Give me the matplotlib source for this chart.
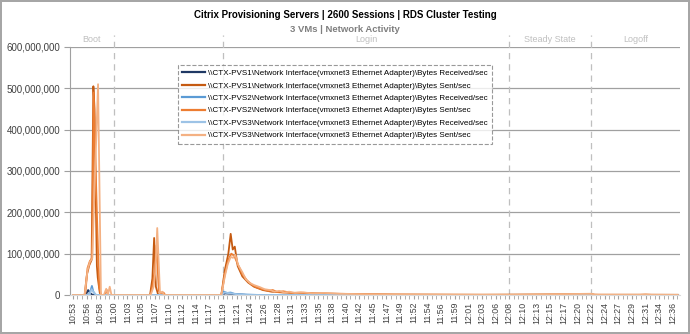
import numpy as np
import matplotlib.pyplot as plt

#%% datos (minutos desde 10:53, valores en millones de bytes/s)
etiquetas = ['10:53', '10:56', '10:58', '11:00', '11:03', '11:05', '11:07', '11:10', '11:12',
             '11:14', '11:17', '11:19', '11:21', '11:24', '11:26', '11:28', '11:31', '11:33',
             '11:35', '11:38', '11:40', '11:42', '11:45', '11:47', '11:49', '11:52', '11:54',
             '11:56', '11:59', '12:01', '12:03', '12:06', '12:08', '12:10', '12:13', '12:15',
             '12:17', '12:20', '12:22', '12:24', '12:27', '12:29', '12:31', '12:34', '12:36']
fases = ['Boot', 'Login', 'Steady State', 'Logoff']
fases_idx = [3, 11, 32, 38]   # etiqueta donde empieza cada fase

nombres = [r'\\CTX-PVS1\Network Interface(vmxnet3 Ethernet Adapter)\Bytes Received/sec',
           r'\\CTX-PVS1\Network Interface(vmxnet3 Ethernet Adapter)\Bytes Sent/sec',
           r'\\CTX-PVS2\Network Interface(vmxnet3 Ethernet Adapter)\Bytes Received/sec',
           r'\\CTX-PVS2\Network Interface(vmxnet3 Ethernet Adapter)\Bytes Sent/sec',
           r'\\CTX-PVS3\Network Interface(vmxnet3 Ethernet Adapter)\Bytes Received/sec',
           r'\\CTX-PVS3\Network Interface(vmxnet3 Ethernet Adapter)\Bytes Sent/sec']

pvs1_recv_t = [0, 2.2, 2.6, 3.0, 3.4, 25.5, 26.0, 27.0, 28.5, 30.0, 103.5]
pvs1_recv_v = [0, 0, 12, 4, 0, 0, 4, 3, 1, 0, 0]

pvs1_sent_t = [0, 2.0, 2.4, 2.8, 3.2, 3.5, 3.7, 3.9, 4.1, 4.25, 4.6, 4.9,
               13.2, 13.6, 13.9, 14.2, 14.6,
               25.4, 26.0, 26.6, 27.0, 27.35, 27.7, 28.2, 29.0, 30.0, 31.0, 32.5, 34.0, 36.0,
               40.0, 45.0, 55.0, 70.0, 88.8, 89.3, 103.5]
pvs1_sent_v = [0, 0, 50, 72, 85, 505, 450, 250, 70, 42, 5, 0,
               0, 40, 138, 20, 0,
               0, 60, 100, 148, 110, 117, 70, 45, 30, 20, 12, 8, 6,
               4, 3, 1, 0.5, 2, 0.5, 0.5]

pvs2_recv_t = [0, 2.7, 3.0, 3.25, 3.5, 3.9, 25.5, 25.8, 26.4, 27.0, 27.6, 28.5, 30.0, 32.0, 103.5]
pvs2_recv_v = [0, 0, 10, 22, 8, 0, 0, 8, 5, 6, 3, 2, 1, 0, 0]

pvs2_sent_t = [0, 2.1, 2.5, 2.9, 3.3, 3.55, 3.9, 4.2, 4.5, 4.8, 5.5, 5.8, 6.1,
               13.3, 13.7, 14.0, 14.3, 14.7, 15.2, 15.5, 15.8,
               25.4, 26.0, 26.6, 27.1, 27.6, 28.2, 29.0, 29.8, 30.6, 31.5,
               32.4, 33.5, 34.2, 35.0, 36.0, 37.5, 39.0, 41.0, 44.0, 48.0,
               55.0, 65.0, 80.0, 88.7, 90.0, 98.0, 103.5]
pvs2_sent_v = [0, 0, 65, 82, 90, 490, 300, 150, 20, 0, 0, 12, 0,
               0, 30, 60, 120, 10, 0, 6, 0,
               0, 50, 85, 100, 95, 75, 50, 35, 25, 18,
               14, 10, 12, 7, 9, 5, 6, 4, 3, 2,
               1, 0.5, 0.3, 1, 0.3, 0.5, 0.2]

pvs3_recv_t = [0, 2.8, 3.2, 3.6, 4.0, 25.5, 25.9, 27.0, 28.0, 29.5, 103.5]
pvs3_recv_v = [0, 0, 14, 6, 0, 0, 6, 4, 2, 0, 0]

pvs3_sent_t = [0, 2.0, 2.5, 2.9, 3.3, 4.3, 4.8, 5.3, 5.7, 6.0, 6.3, 6.6,
               13.3, 13.8, 14.1, 14.43, 14.9, 15.3, 15.6,
               25.4, 26.0, 26.5, 27.0, 27.4, 27.8, 28.3, 29.0, 29.6, 30.3,
               31.0, 32.0, 32.8, 33.7, 34.5, 35.3, 36.2, 37.0, 38.0, 39.5,
               41.0, 43.0, 45.7, 50.0, 56.0, 65.0, 75.0, 88.7, 89.2, 97.0,
               98.0, 99.0, 103.5]
pvs3_sent_v = [0, 0, 60, 80, 88, 510, 0, 0, 15, 2, 20, 0,
               0, 20, 55, 162, 5, 8, 0,
               0, 45, 75, 92, 90, 97, 72, 55, 38, 29,
               24, 19, 14, 12, 8, 10, 6, 8, 5, 6,
               4, 5, 3, 2, 1, 0.8, 0.5, 3, 1, 0.5,
               2, 0.5, 0.3]

series = [(pvs1_recv_t, pvs1_recv_v), (pvs1_sent_t, pvs1_sent_v),
          (pvs2_recv_t, pvs2_recv_v), (pvs2_sent_t, pvs2_sent_v),
          (pvs3_recv_t, pvs3_recv_v), (pvs3_sent_t, pvs3_sent_v)]
colores = ['#1F3864', '#C55A11', '#5B9BD5', '#ED7D31', '#9DC3E6', '#F4B183']

paso = 7 / 3   # minutos entre etiquetas
x_min, x_max = -0.5, 103.9

#%% figura
plt.rcParams['font.family'] = ['Liberation Sans', 'DejaVu Sans']

fig = plt.figure(figsize=(6.9, 3.34), dpi=100, edgecolor='#A6A6A6', linewidth=1.5)
ax = fig.add_axes([70 / 690, 1 - 295 / 334, 610 / 690, 248 / 334])

for (t, v), c, nom in zip(series, colores, nombres):
    ax.plot(t, np.array(v) * 1e6, color=c, lw=1.3, label=nom)

ax.set_xlim(x_min, x_max)
ax.set_ylim(0, 600e6)
ax.set_yticks(np.arange(0, 600e6 + 1, 100e6))
ax.set_yticklabels(['{:,.0f}'.format(y) for y in np.arange(0, 600e6 + 1, 100e6)],
                   fontsize=7, color='#404040')
ax.yaxis.grid(True, color='#A0A0A0', lw=0.9)
ax.set_axisbelow(True)

pos = np.arange(len(etiquetas)) * paso
ax.set_xticks(pos)
ax.set_xticklabels(etiquetas, rotation=90, fontsize=6.3, color='#404040')
ax.set_xticks(np.arange(0, x_max, paso / 3), minor=True)
ax.tick_params(axis='x', which='both', length=3, color='#A0A0A0', pad=2)
ax.tick_params(axis='y', length=4, color='#A0A0A0', pad=3)

for s in ['top', 'right']:
    ax.spines[s].set_visible(False)
ax.spines['left'].set_color('#A0A0A0')
ax.spines['bottom'].set_color('#D9D9D9')

# lineas de fases
bordes = [x_min] + [i * paso for i in fases_idx] + [x_max]
centros = [(bordes[0] + bordes[1]) / 2, (bordes[2] + bordes[3]) / 2,
           (bordes[3] + bordes[4]) / 2, (bordes[4] + bordes[5]) / 2]
for i in fases_idx:
    ax.plot([i * paso, i * paso], [0, 628e6], color='#BFBFBF', lw=0.9, ls=(0, (5, 4)),
            clip_on=False, zorder=1)
for xc, nom in zip(centros, fases):
    ax.text(xc, 608e6, nom, ha='center', va='bottom', fontsize=6.5, color='#BFBFBF')

fig.text(0.5, 1 - 15 / 334, 'Citrix Provisioning Servers | 2600 Sessions | RDS Cluster Testing',
         ha='center', va='center', fontsize=7, fontweight='bold', color='#000000')
fig.text(0.5, 1 - 30 / 334, '3 VMs | Network Activity', ha='center', va='center',
         fontsize=6.8, fontweight='bold', color='#7F7F7F')

leg = ax.legend(loc='upper left', bbox_to_anchor=(178 / 690, 1 - 65 / 334),
                bbox_transform=fig.transFigure, fontsize=5.8, frameon=True, fancybox=False,
                handlelength=2.8, handletextpad=0.4, labelspacing=0.6, borderpad=0.55,
                borderaxespad=0)
leg.get_frame().set_edgecolor('#808080')
leg.get_frame().set_linestyle('--')
leg.get_frame().set_linewidth(0.8)
for h in leg.get_lines():
    h.set_linewidth(1.6)

fig.savefig('out.png', dpi=100, edgecolor=fig.get_edgecolor())
